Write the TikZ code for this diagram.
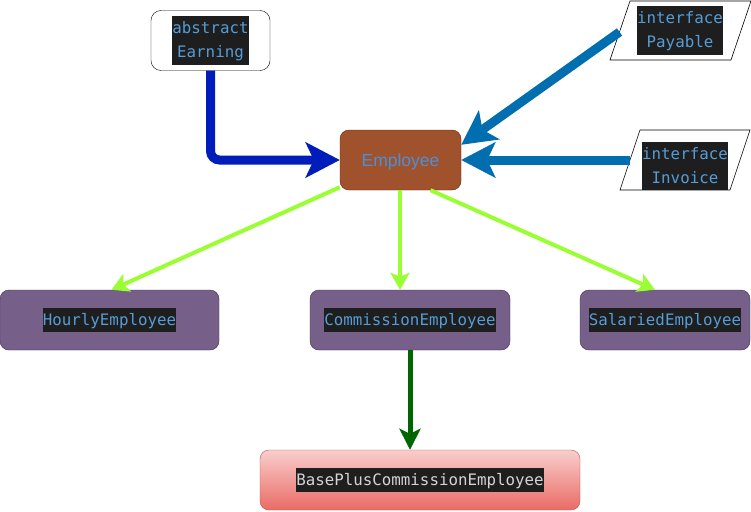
\documentclass[tikz,border=0pt]{standalone}
\usepackage{fontspec}
\usetikzlibrary{arrows.meta,calc}
\newfontfamily\codefont{DejaVu Sans Mono}
\newfontfamily\labfont{Liberation Sans}
\newcommand\cstrut{\rule[-7pt]{0pt}{24pt}}
\definecolor{codebg}{RGB}{30,30,30}
\definecolor{codeblue}{RGB}{86,156,214}
\definecolor{codegray}{RGB}{212,212,212}
\definecolor{sienna}{RGB}{160,82,45}
\definecolor{siennaline}{RGB}{109,31,0}
\definecolor{purplefill}{RGB}{118,96,138}
\definecolor{purpleline}{RGB}{67,45,87}
\definecolor{redtop}{RGB}{248,206,204}
\definecolor{redbot}{RGB}{234,107,102}
\definecolor{redline}{RGB}{184,84,80}
\definecolor{darkblue}{RGB}{0,29,188}
\definecolor{midblue}{RGB}{0,110,175}
\definecolor{lightgreen}{RGB}{153,255,51}
\definecolor{darkgreen}{RGB}{0,102,0}
\definecolor{emptext}{RGB}{74,144,217}
\tikzset{
  codetext/.style={fill=codebg, text=codeblue, inner sep=0pt, align=center,
    font=\codefont\fontsize{15.8}{24}\selectfont},
  box/.style={draw, rounded corners=9pt, minimum width=#1, minimum height=60pt, inner sep=0pt},
  classbox/.style={box=#1, fill=purplefill, draw=purpleline},
  bigarrow/.style={line width=9pt, -{Stealth[length=34pt, width=35pt, inset=8pt]}},
  greenarrow/.style={draw=lightgreen, line width=4pt, -{Stealth[length=17pt, width=19pt, inset=4pt]}},
  deeparrow/.style={draw=darkgreen, line width=5pt, -{Stealth[length=21pt, width=21pt, inset=5pt]}}
}
\begin{document}
\begin{tikzpicture}[x=1pt,y=-1pt]
\useasboundingbox (0,0) rectangle (751,511);

% abstract Earning
\node[box=119pt, fill=white, draw=black, rounded corners=10pt] (earning) at (210.5,40.5) {};
\node[codetext] (earningT) at (earning.center) {\cstrut abstract\\\cstrut Earning};

% Employee
\node[box=121pt, fill=sienna, draw=siennaline] (employee) at (400.5,160) {};
\node[text=emptext, font=\labfont\fontsize{17.5}{20}\selectfont] (employeeT) at ([yshift=-1.5pt]employee.center) {Employee};

% interface Payable
\coordinate (pa) at (630,1);
\coordinate (pb) at (751,1);
\coordinate (pc) at (731,60);
\coordinate (pd) at (610,60);
\draw[fill=white, line width=0.6pt] (pa) -- (pb) -- (pc) -- (pd) -- cycle;
\coordinate (payL) at (619.5,32);
\node[codetext] (payable) at (680,30.5) {\cstrut interface\\\cstrut Payable};

% interface Invoice
\coordinate (ia) at (640,130);
\coordinate (ib) at (750,130);
\coordinate (ic) at (730,190);
\coordinate (id) at (620,190);
\draw[fill=white, line width=0.6pt] (ia) -- (ib) -- (ic) -- (id) -- cycle;
\coordinate (invL) at (630,160);
\node[codetext] (invoice) at (685,166) {\cstrut interface\\\cstrut Invoice};

% subclasses
\node[classbox=219pt] (hourly) at (109.5,320) {};
\node[codetext] (hourlyT) at (hourly.center) {\cstrut HourlyEmployee};
\node[classbox=200pt] (commission) at (410,320) {};
\node[codetext] (commissionT) at (commission.center) {\cstrut CommissionEmployee};
\node[classbox=170pt] (salaried) at (665,320) {};
\node[codetext] (salariedT) at (salaried.center) {\cstrut SalariedEmployee};

% BasePlusCommissionEmployee
\node[box=320pt, top color=redtop, bottom color=redbot, draw=redline] (baseplus) at (420,480) {};
\node[codetext, text=codegray] (baseplusT) at (baseplus.center) {\cstrut BasePlusCommissionEmployee};

% connectors
\draw[bigarrow, draw=darkblue, rounded corners=9pt]
  (earning.south) |- (employee.west);
\draw[bigarrow, draw=midblue]
  (payL) -- ([yshift=-15pt]employee.north east);
\draw[bigarrow, draw=midblue]
  (invL) -- (employee.east);

\draw[greenarrow] ([yshift=3pt]employee.south west) -- ([xshift=2pt]hourly.north);
\draw[greenarrow] ([xshift=-0.5pt]employee.south) -- ([xshift=-10pt]commission.north);
\draw[greenarrow] ([xshift=30pt]employee.south) -- ([xshift=-10pt]salaried.north);

\draw[deeparrow] (commission.south) -- (baseplus.north -| commission.south);
\end{tikzpicture}
\end{document}
